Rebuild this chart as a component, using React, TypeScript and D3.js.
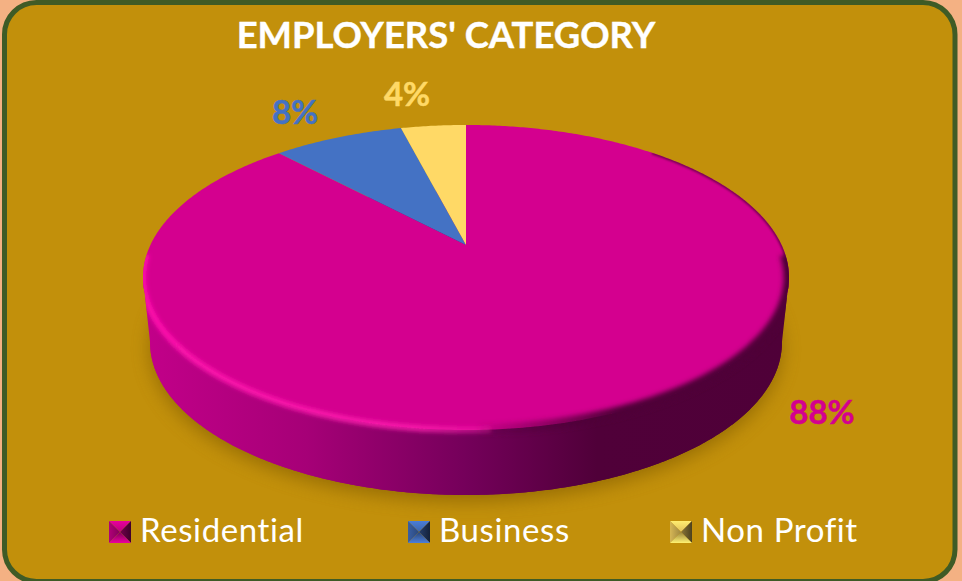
import * as d3 from 'd3';

const categories = ['Residential', 'Business', 'Non Profit'];
const shares = [88, 8, 4];
const sliceColors = ['#d4008f', '#4472c4', '#ffd966'];
const labelColors = ['#d4008f', '#4472c4', '#ffd966'];

const width = 962;
const height = 581;
const font = 'Lato, Carlito, sans-serif';

// pie plane seen in perspective
const cx = 466;
const cy = 245;
const rx = 315.6;
const ry = 145.6;
const k = 0.213;
const depth = 65;
const bottomScale = 0.978;

const project = (theta: number, bottom = false): [number, number] => {
  const u = Math.sin(theta);
  const v = -Math.cos(theta);
  const d = 1 - k * v;
  const s = bottom ? bottomScale : 1;
  return [cx + (s * rx * u) / d, cy + (ry * v) / d + (bottom ? depth : 0)];
};

const steps = (a: number, b: number) => {
  const n = Math.max(2, Math.ceil((b - a) / 0.01));
  return d3.range(n + 1).map(i => a + ((b - a) * i) / n);
};

const line = d3.line();
const pie = d3.pie<number>().value(d => d).sort(null);
const slices = pie(shares);

const slicePath = (a: number, b: number) =>
  line([[cx, cy], ...steps(a, b).map(t => project(t))])! + 'Z';

// silhouette of the wall, between the two side tangents
const tangent = Math.acos(-k);
const wallStart = tangent;
const wallEnd = 2 * Math.PI - tangent;
const wallAngles = steps(wallStart, wallEnd);
const wallPath =
  line([
    ...wallAngles.map(t => project(t)),
    ...wallAngles.slice().reverse().map(t => project(t, true)),
  ])! + 'Z';
const topEllipse = line(steps(0, 2 * Math.PI).map(t => project(t)))! + 'Z';
const bottomEllipse = line(steps(0, 2 * Math.PI).map(t => project(t, true)))! + 'Z';
const rimLight = line(steps(Math.PI * 0.98, wallEnd + 0.15).map(t => project(t)))!;
const rimDark = line(steps(tangent - 0.15, Math.PI * 0.99).map(t => project(t)))!;
const rimEdge = line(steps(0.75, tangent + 0.1).map(t => project(t)))!;

const legendMarkerX = [109, 408, 670];
const labelPos: [number, number][] = [[822, 424], [295, 124], [407, 106]];

const shade = (c: string, f: number) => d3.rgb(c).darker(f).formatHex();

function Marker({ x, y, color, id }: { x: number; y: number; color: string; id: string }) {
  const s = 22;
  const m = s / 2;
  return (
    <g transform={`translate(${x},${y})`}>
      <defs>
        <linearGradient id={`mt-${id}`} x1="0" y1="0" x2="0" y2="1">
          <stop offset="0" stopColor={d3.rgb(color).brighter(0.25).formatHex()} />
          <stop offset="1" stopColor={shade(color, 0.35)} />
        </linearGradient>
        <linearGradient id={`ml-${id}`} x1="0" y1="0" x2="1" y2="0">
          <stop offset="0" stopColor={shade(color, 0.5)} />
          <stop offset="1" stopColor={shade(color, 1.3)} />
        </linearGradient>
        <linearGradient id={`mr-${id}`} x1="0" y1="0" x2="1" y2="0">
          <stop offset="0" stopColor={shade(color, 1.7)} />
          <stop offset="1" stopColor={shade(color, 3.4)} />
        </linearGradient>
        <linearGradient id={`mb-${id}`} x1="0" y1="0" x2="0" y2="1">
          <stop offset="0" stopColor={shade(color, 1.4)} />
          <stop offset="1" stopColor={d3.rgb(color).brighter(0.3).formatHex()} />
        </linearGradient>
      </defs>
      <path d={`M0,0L${s},0L${m},${m}Z`} fill={`url(#mt-${id})`} />
      <path d={`M0,0L${m},${m}L0,${s}Z`} fill={`url(#ml-${id})`} />
      <path d={`M${s},0L${s},${s}L${m},${m}Z`} fill={`url(#mr-${id})`} />
      <path d={`M0,${s}L${m},${m}L${s},${s}Z`} fill={`url(#mb-${id})`} />
    </g>
  );
}

export default function App() {
  return (
    <svg
      width={width}
      height={height}
      style={{ position: 'absolute', left: 0, top: 0, display: 'block', fontVariantLigatures: 'none' }}
    >
      <defs>
        <linearGradient id="wall" gradientUnits="userSpaceOnUse" x1="145" y1="0" x2="790" y2="0">
          <stop offset="0" stopColor="#c20089" />
          <stop offset="0.25" stopColor="#a60077" />
          <stop offset="0.5" stopColor="#74005a" />
          <stop offset="0.7" stopColor="#500039" />
          <stop offset="1" stopColor="#4f0038" />
        </linearGradient>
        <linearGradient id="rimLight" gradientUnits="userSpaceOnUse" x1="145" y1="0" x2="560" y2="0">
          <stop offset="0" stopColor="#ff10ad" />
          <stop offset="0.65" stopColor="#ff22b0" stopOpacity="0.85" />
          <stop offset="1" stopColor="#ff22b0" stopOpacity="0" />
        </linearGradient>
        <linearGradient id="rimDark" gradientUnits="userSpaceOnUse" x1="470" y1="0" x2="620" y2="0">
          <stop offset="0" stopColor="#4f0038" stopOpacity="0" />
          <stop offset="1" stopColor="#4f0038" />
        </linearGradient>
        <filter id="blur2" x="-10%" y="-10%" width="120%" height="120%">
          <feGaussianBlur stdDeviation="2.2" />
        </filter>
        <filter id="blur3" x="-10%" y="-10%" width="120%" height="120%">
          <feGaussianBlur stdDeviation="2.6" />
        </filter>
        <filter id="blur1" x="-10%" y="-10%" width="120%" height="120%">
          <feGaussianBlur stdDeviation="1" />
        </filter>
        <filter id="shadow" x="-10%" y="-10%" width="120%" height="120%">
          <feGaussianBlur stdDeviation="9" />
        </filter>
        <clipPath id="topClip">
          <path d={topEllipse} />
        </clipPath>
        <clipPath id="discClip">
          <path d={topEllipse} />
          <path d={wallPath} />
        </clipPath>
      </defs>

      <rect width={width} height={height} fill="#f4b183" />
      <rect x={4.5} y={2.5} width={950.5} height={579} rx={32} fill="#c2900b" stroke="#3f5b26" strokeWidth={5} />

      {/* soft shadow under the disc */}
      <path d={bottomEllipse} fill="#7a5600" opacity={0.6} transform="translate(0,6)" filter="url(#shadow)" />

      <path d={bottomEllipse} fill="url(#wall)" />
      <path d={wallPath} fill="url(#wall)" />

      {slices.map((s, i) => (
        <path key={categories[i]} d={slicePath(s.startAngle, s.endAngle)} fill={sliceColors[i]} />
      ))}

      <g clipPath="url(#discClip)">
        <path d={rimLight} fill="none" stroke="url(#rimLight)" strokeWidth={6} filter="url(#blur2)" />
        <path d={rimDark} fill="none" stroke="url(#rimDark)" strokeWidth={11} filter="url(#blur3)" />
      </g>
      <g clipPath="url(#topClip)">
        <path d={rimEdge} fill="none" stroke="#4f0038" strokeWidth={3} opacity={0.75} filter="url(#blur1)" />
      </g>

      <text
        x={446}
        y={48}
        textAnchor="middle"
        fill="#fff"
        stroke="#fff"
        strokeWidth={0.4}
        fontFamily={font}
        fontWeight={700}
        fontSize={36.4}
      >
        EMPLOYERS' CATEGORY
      </text>

      {shares.map((v, i) => (
        <text
          key={categories[i]}
          x={labelPos[i][0]}
          y={labelPos[i][1]}
          textAnchor="middle"
          fill={labelColors[i]}
          stroke={labelColors[i]}
          strokeWidth={0.5}
          fontFamily={font}
          fontWeight={700}
          fontSize={33}
        >
          {`${v}%`}
        </text>
      ))}

      {categories.map((c, i) => (
        <g key={c}>
          <Marker x={legendMarkerX[i]} y={521} color={sliceColors[i]} id={String(i)} />
          <text x={legendMarkerX[i] + 31} y={542} fill="#fff" fontFamily={font} fontSize={33} letterSpacing={0.6}>
            {c}
          </text>
        </g>
      ))}
    </svg>
  );
}
